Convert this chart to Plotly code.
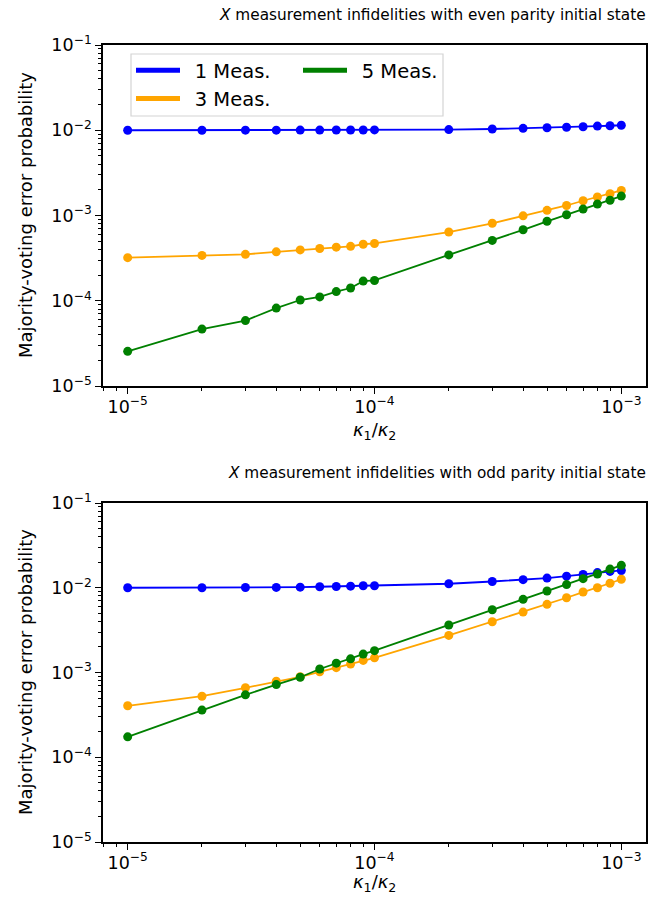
import plotly.graph_objects as go
from plotly.subplots import make_subplots

# kappa_1 / kappa_2 values
ratio = [1e-5, 2e-5, 3e-5, 4e-5, 5e-5, 6e-5, 7e-5, 8e-5, 9e-5,
         1e-4, 2e-4, 3e-4, 4e-4, 5e-4, 6e-4, 7e-4, 8e-4, 9e-4, 1e-3]

# even parity initial state
even_1meas = [1.000e-2, 1.001e-2, 1.002e-2, 1.003e-2, 1.004e-2, 1.005e-2, 1.006e-2, 1.007e-2, 1.008e-2,
              1.010e-2, 1.018e-2, 1.034e-2, 1.052e-2, 1.070e-2, 1.086e-2, 1.100e-2, 1.118e-2, 1.130e-2, 1.145e-2]
even_3meas = [3.2e-4, 3.4e-4, 3.5e-4, 3.75e-4, 3.95e-4, 4.1e-4, 4.25e-4, 4.35e-4, 4.6e-4,
              4.7e-4, 6.4e-4, 8.1e-4, 9.9e-4, 1.15e-3, 1.31e-3, 1.49e-3, 1.65e-3, 1.80e-3, 1.97e-3]
even_5meas = [2.55e-5, 4.65e-5, 5.85e-5, 8.2e-5, 1.02e-4, 1.11e-4, 1.28e-4, 1.41e-4, 1.70e-4,
              1.73e-4, 3.45e-4, 5.1e-4, 6.8e-4, 8.55e-4, 1.02e-3, 1.19e-3, 1.36e-3, 1.51e-3, 1.69e-3]

# odd parity initial state
odd_1meas = [1.000e-2, 1.001e-2, 1.008e-2, 1.009e-2, 1.016e-2, 1.027e-2, 1.036e-2, 1.044e-2, 1.055e-2,
             1.057e-2, 1.115e-2, 1.185e-2, 1.245e-2, 1.300e-2, 1.370e-2, 1.435e-2, 1.510e-2, 1.560e-2, 1.600e-2]
odd_3meas = [4.05e-4, 5.25e-4, 6.6e-4, 7.9e-4, 8.9e-4, 1.02e-3, 1.14e-3, 1.26e-3, 1.39e-3,
             1.49e-3, 2.74e-3, 3.97e-3, 5.16e-3, 6.37e-3, 7.62e-3, 8.9e-3, 1.0e-2, 1.13e-2, 1.26e-2]
odd_5meas = [1.74e-4, 3.6e-4, 5.45e-4, 7.2e-4, 8.8e-4, 1.10e-3, 1.29e-3, 1.45e-3, 1.65e-3,
             1.81e-3, 3.63e-3, 5.5e-3, 7.3e-3, 9.15e-3, 1.09e-2, 1.28e-2, 1.45e-2, 1.66e-2, 1.84e-2]

series_names = ["1 Meas.", "3 Meas.", "5 Meas."]
series_colors = ["#0000ff", "#ffa500", "#008000"]

panel_titles = ["<i>X</i> measurement infidelities with even parity initial state",
                "<i>X</i> measurement infidelities with odd parity initial state"]

x_ticks = [1e-5, 1e-4, 1e-3]
x_ticktext = ["10<sup>−5</sup>", "10<sup>−4</sup>", "10<sup>−3</sup>"]
y_ticks = [1e-5, 1e-4, 1e-3, 1e-2, 1e-1]
y_ticktext = ["10<sup>−5</sup>", "10<sup>−4</sup>", "10<sup>−3</sup>", "10<sup>−2</sup>", "10<sup>−1</sup>"]

FONT = "DejaVu Sans"
W, H = 660, 898
L, R = 103, 14
top_px = (45, 386)
bot_px = (503, 842)
pw = W - L - R


def ydom(px):
    return [1 - px[1] / H, 1 - px[0] / H]


fig = make_subplots(rows=2, cols=1)
fig.update_layout(yaxis=dict(domain=ydom(top_px)), yaxis2=dict(domain=ydom(bot_px)))

panels = [(1, [even_1meas, even_3meas, even_5meas]),
          (2, [odd_1meas, odd_3meas, odd_5meas])]
for row, data in panels:
    for name, color, vals in zip(series_names, series_colors, data):
        fig.add_trace(go.Scatter(
            x=ratio, y=vals, mode="lines+markers", name=name, showlegend=False,
            line=dict(color=color, width=1.8),
            marker=dict(color=color, size=9, line=dict(width=0)),
        ), row=row, col=1)

# legend entries (thick line handles only), laid out in two columns
legend_of = {"1 Meas.": "legend", "3 Meas.": "legend", "5 Meas.": "legend2"}
for name, color in zip(series_names, series_colors):
    fig.add_trace(go.Scatter(
        x=[None], y=[None], mode="lines", name="\u2002" + name, legend=legend_of[name],
        line=dict(color=color, width=5),
    ), row=1, col=1)

# minor tick positions on the log axes
x_minor = [m * 10.0 ** e for e in (-6, -5, -4, -3) for m in range(2, 10)]
y_minor = [m * 10.0 ** e for e in (-5, -4, -3, -2) for m in range(2, 10)]

axis_common = dict(
    type="log", showgrid=False, zeroline=False,
    showline=True, linecolor="black", linewidth=1.6, mirror=True,
    ticks="outside", ticklen=6, tickwidth=1.3, tickcolor="black",
    tickfont=dict(family=FONT, size=17.5, color="black"),
)
for row in (1, 2):
    fig.update_xaxes(
        range=[-5.1, -2.9], tickmode="array", tickvals=x_ticks, ticktext=x_ticktext,
        ticklabelstandoff=-2,
        minor=dict(tickmode="array", tickvals=x_minor, ticks="outside", ticklen=3.5,
                   tickwidth=1, tickcolor="black", showgrid=False),
        **axis_common, row=row, col=1)
    fig.update_yaxes(
        range=[-5, -1], tickmode="array", tickvals=y_ticks, ticktext=y_ticktext,
        minor=dict(tickmode="array", tickvals=y_minor, ticks="outside", ticklen=3.5,
                   tickwidth=1, tickcolor="black", showgrid=False),
        **axis_common, row=row, col=1)

annotations = []
# x-axis label positions: (paper y, anchor) for each panel
xlabel_pos = [(1 - (top_px[1] + 45) / H, "middle"), (1 / H, "bottom")]
for i, px in enumerate((top_px, bot_px)):
    y_top = 1 - px[0] / H
    y_bot = 1 - px[1] / H
    annotations.append(dict(
        text=panel_titles[i], xref="paper", yref="paper", x=(648 - L) / pw, y=y_top + 30 / H,
        xanchor="right", yanchor="middle", showarrow=False,
        font=dict(family=FONT, size=15.3, color="black")))
    annotations.append(dict(
        text="<i>κ</i><sub>1</sub>/<i>κ</i><sub>2</sub>", xref="paper", yref="paper",
        x=0.5, y=xlabel_pos[i][0], xanchor="center", yanchor=xlabel_pos[i][1], showarrow=False,
        font=dict(family=FONT, size=18, color="black")))
    annotations.append(dict(
        text="Majority-voting error probability", xref="paper", yref="paper",
        x=-(L - 25.5) / pw, y=(y_top + y_bot) / 2, xanchor="center", yanchor="middle",
        textangle=-90, showarrow=False,
        font=dict(family=FONT, size=18, color="black")))

box_x0, box_x1 = (131 - L) / pw, (443 - L) / pw
box_y0, box_y1 = 1 - 116 / H, 1 - 54 / H

legend_font = dict(family=FONT, size=19.5, color="black")
fig.update_layout(
    width=W, height=H,
    margin=dict(l=L, r=R, t=0, b=0, autoexpand=False),
    plot_bgcolor="white", paper_bgcolor="white",
    font=dict(family=FONT, color="black"),
    annotations=annotations,
    shapes=[dict(type="rect", xref="paper", yref="paper",
                 x0=box_x0, x1=box_x1, y0=box_y0, y1=box_y1,
                 line=dict(color="#d4d4d4", width=1.2), fillcolor="rgba(255,255,255,0.8)",
                 layer="above")],
    legend=dict(x=(131 - L) / pw, y=1 - 51 / H, xanchor="left", yanchor="top",
                bgcolor="rgba(0,0,0,0)", borderwidth=0, itemwidth=44,
                font=legend_font, tracegroupgap=0),
    legend2=dict(x=(298 - L) / pw, y=1 - 51 / H, xanchor="left", yanchor="top",
                 bgcolor="rgba(0,0,0,0)", borderwidth=0, itemwidth=44,
                 font=legend_font),
)

fig.write_html("out.html")
